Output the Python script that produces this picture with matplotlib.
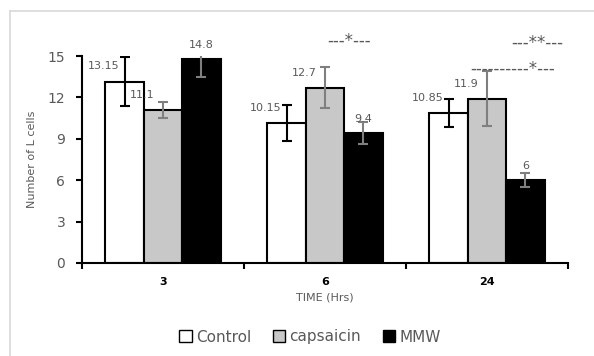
import numpy as np
import matplotlib.pyplot as plt
from matplotlib.patches import Rectangle
from matplotlib.lines import Line2D

# dati
tempi = ['3', '6', '24']
serie = ['Control', 'capsaicin', 'MMW']
valori = {
    'Control': [13.15, 10.15, 10.85],
    'capsaicin': [11.1, 12.7, 11.9],
    'MMW': [14.8, 9.4, 6.0],
}
errori = {
    'Control': [1.8, 1.3, 1.0],
    'capsaicin': [0.6, 1.5, 2.0],
    'MMW': [1.3, 0.8, 0.5],
}
etichette = {
    'Control': ['13.15', '10.15', '10.85'],
    'capsaicin': ['11.1', '12.7', '11.9'],
    'MMW': ['14.8', '9.4', '6'],
}
colori = {'Control': 'white', 'capsaicin': '#c8c8c8', 'MMW': 'black'}
colori_err = {'Control': 'black', 'capsaicin': '#7f7f7f', 'MMW': '#7f7f7f'}
# significativita: (testo, x in unita di gruppo, y)
signif = [('---*---', 1.15, 16.1), ('---**---', 2.31, 15.95), ('----------*---', 2.16, 14.1)]

grigio = '#595959'
fig = plt.figure(figsize=(5.94, 3.56), dpi=100)
# cornice esterna (solo lati sinistro e superiore visibili)
fig.lines.append(Line2D([10 / 594, 10 / 594], [0, 1 - 11 / 356], transform=fig.transFigure,
                        color='#d9d9d9', linewidth=1.2))
fig.lines.append(Line2D([10 / 594, 1], [1 - 11 / 356, 1 - 11 / 356], transform=fig.transFigure,
                        color='#d9d9d9', linewidth=1.2))
ax = fig.add_axes([82 / 594, 93 / 356, 486 / 594, 207 / 356])

x = np.arange(len(tempi))
w = 0.237
for i, s in enumerate(serie):
    pos = x + (i - 1) * w
    ax.bar(pos, valori[s], w, color=colori[s], edgecolor='black', linewidth=1.5, zorder=2)
    ax.errorbar(pos, valori[s], yerr=errori[s], fmt='none', ecolor=colori_err[s],
                elinewidth=1.5, capsize=3.5, capthick=1.5, zorder=3)
    for j, p in enumerate(pos):
        if s == 'MMW':
            ax.text(p, valori[s][j] + 1.0, etichette[s][j], ha='center', va='center',
                    fontsize=8, color=grigio, zorder=4)
        else:
            ax.annotate(etichette[s][j], (p, valori[s][j] + 1.1), xytext=(-15, 0),
                        textcoords='offset points', ha='center', va='center',
                        fontsize=8, color=grigio, zorder=4)

for testo, xs, ys in signif:
    ax.text(xs, ys, testo, ha='center', va='center', fontsize=12,
            color=grigio, clip_on=False)

ax.set_xlim(-0.5, 2.5)
ax.set_ylim(0, 15)
ax.set_yticks(np.arange(0, 16, 3))
ax.set_xticks(x)
ax.set_xticklabels(tempi, fontweight='bold', fontsize=8)
ax.set_xticks([-0.5, 0.5, 1.5, 2.5], minor=True)
ax.tick_params(axis='x', which='major', length=0, pad=10)
ax.tick_params(axis='x', which='minor', length=4, width=1.5, direction='out')
ax.tick_params(axis='y', length=4, width=1.5, direction='out', labelsize=10, labelcolor=grigio, pad=8)
for lato in ['top', 'right']:
    ax.spines[lato].set_visible(False)
for lato in ['left', 'bottom']:
    ax.spines[lato].set_linewidth(1.5)

ax.set_xlabel('TIME (Hrs)', fontsize=8, color=grigio, labelpad=4)
ax.set_ylabel('Number of L cells', fontsize=8, color=grigio, labelpad=8)

handles = [Rectangle((0, 0), 1, 1, facecolor=colori[s], edgecolor='black', linewidth=1) for s in serie]
fig.legend(handles, serie, loc='center', bbox_to_anchor=(310 / 594, 1 - 337 / 356), ncol=3,
           frameon=False, fontsize=11, handlelength=0.8, handleheight=0.8, handletextpad=0.3,
           columnspacing=1.4, labelcolor=grigio)

plt.savefig('out.png', dpi=100)
